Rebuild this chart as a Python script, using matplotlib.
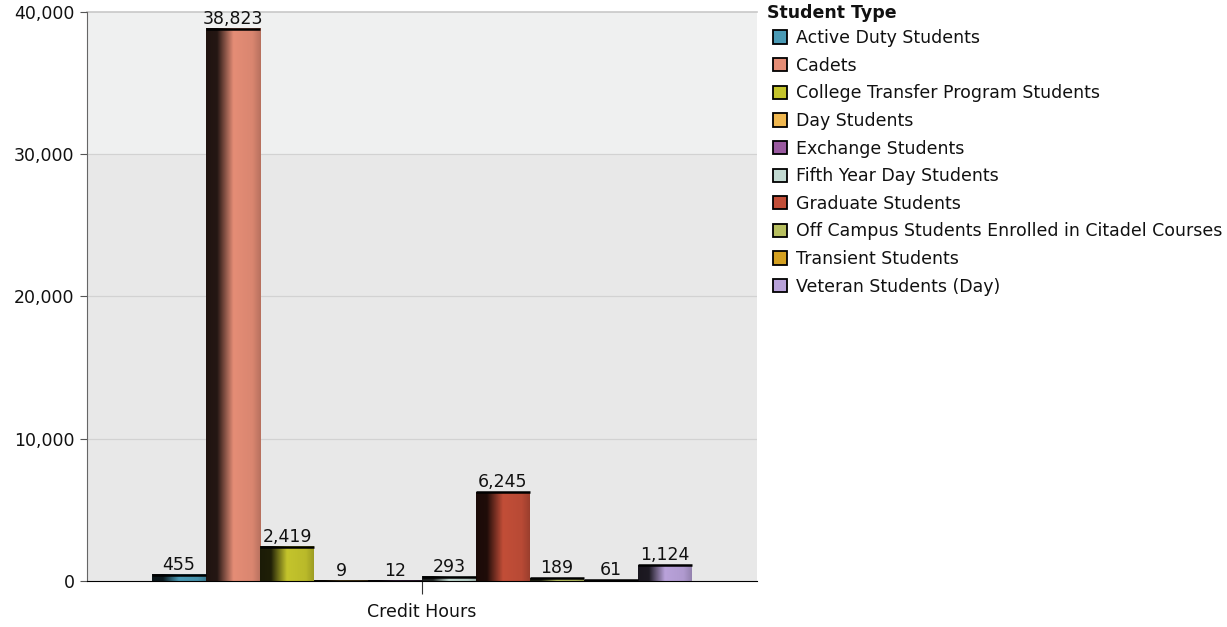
import numpy as np
import matplotlib.pyplot as plt
from matplotlib.patches import Patch
from matplotlib.ticker import FuncFormatter
from matplotlib.colors import to_rgb

student_types = ["Active Duty Students", "Cadets", "College Transfer Program Students",
                 "Day Students", "Exchange Students", "Fifth Year Day Students",
                 "Graduate Students", "Off Campus Students Enrolled in Citadel Courses",
                 "Transient Students", "Veteran Students (Day)"]
credit_hours = [455, 38823, 2419, 9, 12, 293, 6245, 189, 61, 1124]
colors = ["#4a9ab5", "#e58d76", "#c4c42c", "#f0b850", "#9a5aa0",
          "#c2dad2", "#c24e38", "#b8c060", "#d4a020", "#b9a2da"]

FS = 12.5
plt.rcParams['font.family'] = ['DejaVu Sans']
fig = plt.figure(figsize=(12.27, 6.27), dpi=100)
ax = fig.add_axes([87 / 1227, 46 / 627, 670 / 1227, 569 / 627])

# background bands
ax.set_facecolor("#e8e8e8")
ax.axhspan(30000, 40000, color="#eff0f0", zorder=0)
for y in [10000, 20000, 30000]:
    ax.axhline(y, color="#d2d2d2", lw=0.9, zorder=0.5)
ax.axhline(40000, color="#c8c8c8", lw=1.2, zorder=0.5, clip_on=False)

n = len(credit_hours)
w = (540 / 670) / n
xs = (np.arange(n) - (n - 1) / 2) * w

# horizontal shading profile for the bars
t = np.linspace(0, 1, 80)
shade = np.interp(t, [0, 0.2, 0.3, 0.5, 0.85, 1.0], [0.14, 0.16, 0.45, 1.0, 0.95, 0.8])

bars = ax.bar(xs, credit_hours, width=w, color="none", zorder=2)
for b, c in zip(bars, colors):
    rgb = np.array(to_rgb(c))
    img = np.clip(shade[:, None] * rgb[None, :], 0, 1)[None, :, :]
    x0 = b.get_x()
    ax.imshow(img, extent=[x0, x0 + b.get_width(), 0, b.get_height()],
              aspect="auto", zorder=2, interpolation="bilinear")
ax.hlines(credit_hours, xs - w / 2, xs + w / 2, color="black", lw=1.8, zorder=3)

for x, v in zip(xs, credit_hours):
    ax.text(x, v + 60, f"{v:,}", ha="center", va="bottom", fontsize=FS,
            color="#111111", zorder=4)

ax.set_xlim(-0.5, 0.5)
ax.set_ylim(0, 40000)
ax.set_yticks([0, 10000, 20000, 30000, 40000])
ax.yaxis.set_major_formatter(FuncFormatter(lambda v, p: f"{int(v):,}"))
ax.set_xticks([0])
ax.set_xticklabels(["Credit Hours"])
ax.tick_params(axis="y", length=5, color="#555555", labelsize=FS, labelcolor="#111111", pad=4)
ax.tick_params(axis="x", length=9, color="#333333", labelsize=FS, labelcolor="#111111", pad=7)

for s in ["top", "right"]:
    ax.spines[s].set_visible(False)
ax.spines["left"].set_color("#666666")
ax.spines["bottom"].set_color("black")
ax.spines["left"].set_zorder(5)
ax.spines["bottom"].set_zorder(5)

fig.text(767 / 1227, 1 - 4 / 627, "Student Type", fontsize=FS, fontweight="bold",
         ha="left", va="top", color="#111111")
handles = [Patch(facecolor=c, edgecolor="black", lw=1.3) for c in colors]
leg = fig.legend(handles, student_types, loc="upper left",
                 bbox_to_anchor=(773 / 1227, 1 - 29 / 627), frameon=False,
                 fontsize=FS, handlelength=0.8, handleheight=0.8, handletextpad=0.55,
                 labelspacing=0.555, borderaxespad=0, borderpad=0)
for txt in leg.get_texts():
    txt.set_color("#111111")

fig.savefig("out.png", dpi=100)
